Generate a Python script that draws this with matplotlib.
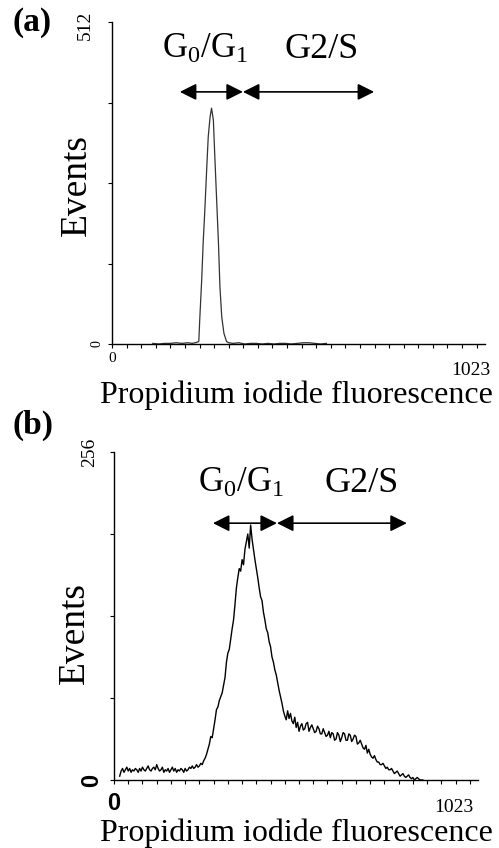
import numpy as np
import matplotlib
matplotlib.use("Agg")
import matplotlib.pyplot as plt

plt.rcParams["font.family"] = ["Liberation Serif", "DejaVu Serif"]
plt.rcParams["mathtext.fontset"] = "custom"
plt.rcParams["mathtext.rm"] = "Liberation Serif"
plt.rcParams["mathtext.it"] = "Liberation Serif:italic"

#=================
# data
#=================
# panel (a): channel / events
a_channel = [112, 128, 144, 160, 176, 192, 208, 220, 228, 234,
             238, 241, 246, 250, 255, 260, 264, 269, 273, 278,
             282, 287, 292, 296, 301, 307, 314, 320, 332, 348,
             364, 380, 396, 412, 428, 444, 460, 476, 492, 508,
             524, 540, 556, 572, 588]
a_events = [1, 0, 1, 1, 2, 1, 2, 1, 2, 3,
            4, 43, 102, 160, 218, 282, 330, 361, 375, 356,
            298, 229, 160, 91, 43, 17, 4, 2, 1, 2,
            0, 1, 1, 0, 1, 0, 1, 1, 0, 1,
            2, 2, 1, 0, 1]
a_ymax = 512
a_gates = [186, 359, 719]

# panel (b): channels every 4 starting at 16
b_channel = list(range(16, 872, 4))
b_events = [3, 7, 9, 6, 8, 10, 7, 9, 6, 8,
            7, 9, 8, 6, 9, 7, 10, 8, 7, 9,
            11, 8, 7, 9, 10, 8, 12, 9, 7, 8,
            10, 6, 8, 7, 9, 6, 8, 10, 7, 9,
            6, 8, 7, 9, 8, 6, 9, 7, 8, 10,
            9, 11, 9, 10, 12, 10, 11, 13, 12, 15,
            17, 20, 24, 28, 34, 33, 40, 47, 55, 57,
            62, 65, 68, 74, 80, 92, 99, 102, 110, 118,
            125, 137, 150, 158, 165, 163, 172, 168, 180, 186,
            192, 181, 199, 188, 180, 172, 165, 158, 150, 143,
            140, 131, 125, 118, 115, 108, 104, 96, 92, 86,
            82, 76, 70, 65, 60, 54, 50, 47, 54, 48,
            52, 46, 44, 49, 41, 45, 38, 42, 44, 39,
            40, 44, 45, 38, 41, 43, 40, 37, 38, 42,
            40, 36, 36, 40, 37, 34, 35, 38, 33, 37,
            36, 31, 32, 37, 35, 30, 33, 37, 36, 31,
            31, 36, 35, 30, 32, 35, 34, 28, 29, 31,
            28, 25, 24, 27, 21, 24, 20, 18, 17, 19,
            16, 14, 14, 12, 12, 13, 11, 9, 10, 8,
            8, 9, 7, 5, 6, 7, 5, 3, 4, 5,
            3, 2, 3, 4, 2, 1, 2, 0, 1, 2,
            1, 0, 0, 0]
b_ymax = 256
b_gates = [278, 458, 823]

xmax = 1023
W, H = 499, 848


def px(x, y):
    return x / W, 1 - y / H


def draw_panel(fig, rect, channel, events, ymax, gates, line_color, line_width):
    ax = fig.add_axes(rect)
    ax.plot(channel, events, color=line_color, lw=line_width)
    ax.set_xlim(0, xmax)
    ax.set_ylim(0, ymax)
    ax.spines["top"].set_visible(False)
    ax.spines["right"].set_visible(False)
    ax.spines["left"].set_linewidth(1.0)
    ax.spines["bottom"].set_linewidth(1.0)
    ax.set_yticks(np.linspace(0, ymax, 5))
    ax.set_xticks(np.arange(0, xmax + 1, 40))
    ax.tick_params(axis="both", direction="out", length=3, width=0.8,
                   labelleft=False, labelbottom=False)

    # gate arrows
    y_arrow = ymax * 0.783
    for x0, x1 in [(gates[0], gates[1]), (gates[1], gates[2])]:
        ax.annotate("", xy=(x1, y_arrow), xytext=(x0, y_arrow),
                    annotation_clip=False,
                    arrowprops=dict(arrowstyle="<|-|>,head_length=0.5,head_width=0.25",
                                    mutation_scale=20, color="black", lw=1.2,
                                    shrinkA=0, shrinkB=0))
    return ax


fig = plt.figure(figsize=(W / 100, H / 100), dpi=100)

#=================
# panel (a)
#=================
draw_panel(fig, [112 / W, 1 - 344 / H, 373 / W, 322 / H],
           a_channel, a_events, a_ymax, a_gates, "#333333", 0.9)

fig.text(*px(13, 22), "(a)", fontsize=24, fontweight="bold", va="center", ha="left")
fig.text(*px(85, 25), "512", fontsize=14, rotation=90, va="center", ha="center")
fig.text(*px(97, 344), "0", fontsize=10, rotation=90, va="center", ha="center")
fig.text(*px(112, 358), "0", fontsize=11, va="center", ha="center")
fig.text(*px(490, 370), "1023", fontsize=14, va="center", ha="right")
fig.text(*px(77, 185), "Events", fontsize=27, rotation=90, va="center", ha="center")
fig.text(*px(296, 395), "Propidium iodide fluorescence", fontsize=23, va="center", ha="center")
fig.text(*px(205, 58), r"G$_0$/G$_1$", fontsize=25, va="baseline", ha="center")
fig.text(*px(322, 58), "G2/S", fontsize=26, va="baseline", ha="center")

#=================
# panel (b)
#=================
draw_panel(fig, [114 / W, 1 - 780 / H, 364 / W, 328 / H],
           b_channel, b_events, b_ymax, b_gates, "black", 1.0)

fig.text(*px(13, 425), "(b)", fontsize=24, fontweight="bold", va="center", ha="left")
fig.text(*px(90, 452), "256", fontsize=14, rotation=90, va="center", ha="center")
fig.text(*px(92, 780), "0", fontsize=17, rotation=90, va="center", ha="center",
         family="Liberation Sans", fontweight="bold")
fig.text(*px(114, 804), "0", fontsize=17, va="center", ha="center",
         family="Liberation Sans", fontweight="bold")
fig.text(*px(473, 808), "1023", fontsize=14, va="center", ha="right")
fig.text(*px(75, 633), "Events", fontsize=27, rotation=90, va="center", ha="center")
fig.text(*px(296, 833), "Propidium iodide fluorescence", fontsize=23, va="center", ha="center")
fig.text(*px(241, 492), r"G$_0$/G$_1$", fontsize=25, va="baseline", ha="center")
fig.text(*px(362, 492), "G2/S", fontsize=26, va="baseline", ha="center")

plt.savefig("out.png", dpi=100)
plt.close()
